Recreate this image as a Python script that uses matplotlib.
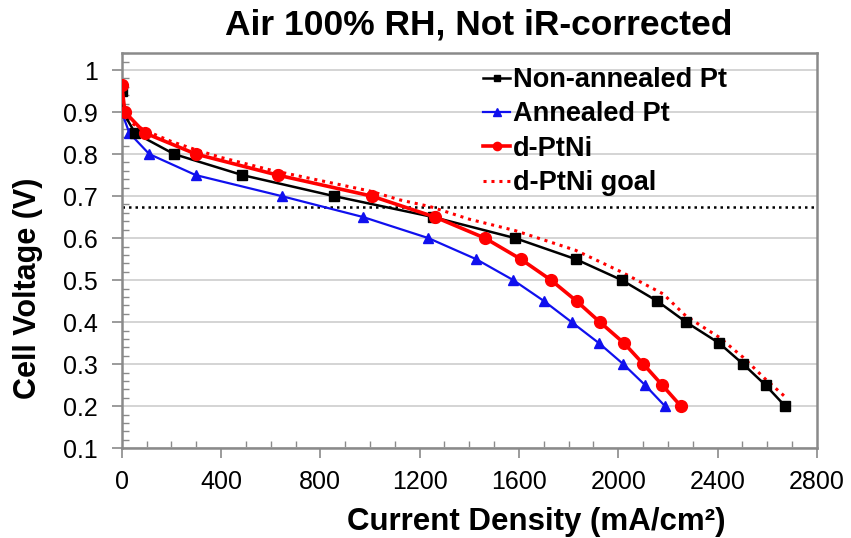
import numpy as np
import matplotlib
matplotlib.use("Agg")
import matplotlib.pyplot as plt
from matplotlib.ticker import MultipleLocator, FormatStrFormatter

plt.rcParams["font.family"] = ["Liberation Sans", "DejaVu Sans"]

# polarization curves
voltage_pts = [0.95, 0.9, 0.85, 0.8, 0.75, 0.7, 0.65, 0.6, 0.55, 0.5,
               0.45, 0.4, 0.35, 0.3, 0.25, 0.2]
non_annealed_j = [0, 5, 54, 211, 486, 855, 1255, 1584, 1828, 2014,
                  2157, 2273, 2406, 2503, 2593, 2672]

annealed_v = [0.9, 0.85, 0.8, 0.75, 0.7, 0.65, 0.6, 0.55, 0.5, 0.45,
              0.4, 0.35, 0.3, 0.25, 0.2]
annealed_j = [0, 31, 111, 298, 644, 973, 1235, 1427, 1577, 1701,
              1812, 1922, 2020, 2108, 2188]

ptni_v = [0.965, 0.9, 0.85, 0.8, 0.75, 0.7, 0.65, 0.6, 0.55, 0.5,
          0.45, 0.4, 0.35, 0.3, 0.25, 0.2]
ptni_j = [0, 13, 94, 299, 628, 1007, 1262, 1463, 1607, 1729,
          1832, 1926, 2023, 2101, 2177, 2252]

goal_j = [0, 50, 100, 200, 300, 400, 500, 600, 800, 1000, 1120, 1242,
          1400, 1584, 1828, 2014, 2181, 2273, 2406, 2503, 2593, 2676]
goal_v = [0.9, 0.87, 0.855, 0.83, 0.81, 0.792, 0.777, 0.762, 0.737, 0.712,
          0.691, 0.675, 0.645, 0.618, 0.571, 0.519, 0.467, 0.414, 0.364,
          0.316, 0.264, 0.22]

target_v = 0.675

title = "Air 100% RH, Not iR-corrected"
x_label = "Current Density (mA/cm²)"
y_label = "Cell Voltage (V)"


def main():
    fig = plt.figure(figsize=(8.51, 5.38), dpi=100)
    ax = fig.add_axes([0.143, 0.167, 0.817, 0.734])

    ax.axhline(target_v, color="black", lw=1.8, ls=(0, (1, 1.6)), zorder=2)

    ax.plot(non_annealed_j, voltage_pts, color="black", lw=1.8, marker="s",
            ms=7, label="Non-annealed Pt", zorder=4)
    ax.plot(annealed_j, annealed_v, color="#1010ee", lw=1.6, marker="^",
            ms=7.5, label="Annealed Pt", zorder=3)
    ax.plot(ptni_j, ptni_v, color="red", lw=2.6, marker="o",
            ms=8.5, label="d-PtNi", zorder=5)
    ax.plot(goal_j, goal_v, color="red", lw=2.2, ls=(0, (1, 1.6)),
            label="d-PtNi goal", zorder=3)

    ax.set_xlim(0, 2800)
    ax.set_ylim(0.1, 1.04)
    ax.xaxis.set_major_locator(MultipleLocator(400))
    ax.xaxis.set_minor_locator(MultipleLocator(100))
    ax.yaxis.set_minor_locator(MultipleLocator(0.02))
    ax.yaxis.set_major_formatter(FormatStrFormatter("%g"))
    ax.set_yticks([0.1, 0.2, 0.3, 0.4, 0.5, 0.6, 0.7, 0.8, 0.9, 1.0])

    ax.grid(axis="y", which="major", color="#d4d4d4", lw=1.4)
    ax.set_axisbelow(True)
    for side in ax.spines.values():
        side.set_color("#8a8a8a")
        side.set_linewidth(1.8)
    ax.tick_params(which="major", direction="out", length=7, width=1.2,
                   color="#8a8a8a", labelsize=18, pad=10)
    ax.tick_params(which="minor", direction="in", length=5, width=1,
                   color="#8a8a8a")
    ax.tick_params(axis="x", which="major", pad=9)

    fig.text(0.63, 0.03, x_label, fontsize=22.5, fontweight="bold",
             ha="center", va="center")
    fig.text(0.033, 0.465, y_label, rotation=90, fontsize=22,
             fontweight="bold", ha="center", va="center")
    fig.text(0.562, 0.953, title, fontsize=25.5, fontweight="bold",
             ha="center", va="center")

    ax.legend(loc="upper left", bbox_to_anchor=(483 / 851, 1 - 67 / 538),
              bbox_transform=fig.transFigure, frameon=False, borderpad=0,
              borderaxespad=0, handlelength=1.0, handletextpad=0.12,
              labelspacing=0.31, markerscale=0.7,
              prop={"weight": "bold", "size": 19.5})

    fig.savefig("out.png", dpi=100)


if __name__ == "__main__":
    main()
